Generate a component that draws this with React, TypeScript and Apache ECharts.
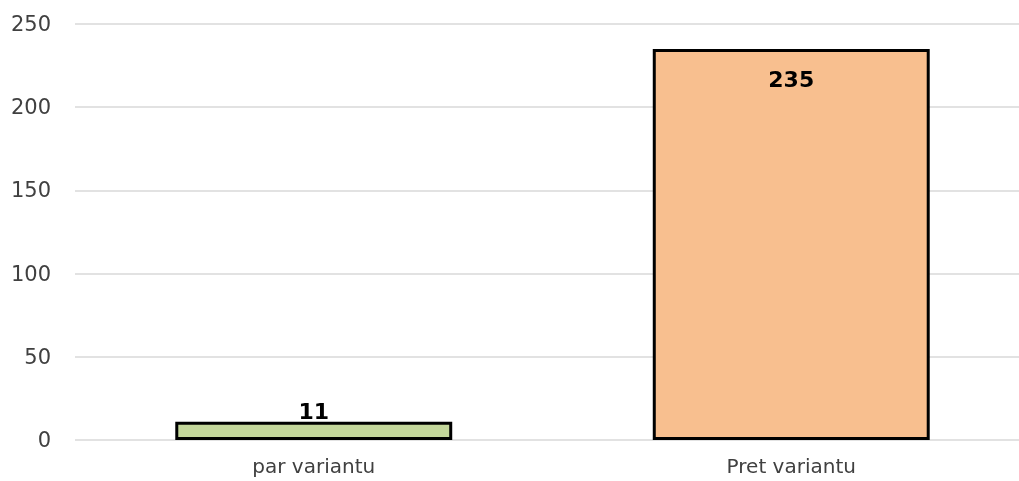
import React, { useEffect, useRef } from "react";
import * as echarts from "echarts";

const categories = ["par variantu", "Pret variantu"];
const values = [11, 235];
const barColors = ["#C4D79B", "#F8BF8F"];
const yTicks = [0, 50, 100, 150, 200, 250];

export default function App() {
  const ref = useRef<HTMLDivElement>(null);
  useEffect(() => {
    if (!ref.current) return;
    const chart = echarts.init(ref.current, undefined, { renderer: "svg" });
    const font = "DejaVu Sans";
    chart.setOption({
      animation: false,
      grid: { left: 75, right: 0, top: 24, bottom: 41, containLabel: false },
      xAxis: {
        type: "category",
        data: categories,
        axisLine: { show: false },
        axisTick: { show: false },
        axisLabel: { color: "#404040", fontSize: 20, fontFamily: font, margin: 16 },
      },
      yAxis: {
        type: "value",
        min: yTicks[0],
        max: yTicks[yTicks.length - 1],
        interval: 50,
        axisLine: { show: false },
        axisTick: { show: false },
        splitLine: { lineStyle: { color: "#D9D9D9", width: 1.5 } },
        axisLabel: { color: "#404040", fontSize: 21, fontFamily: font, margin: 24 },
      },
      series: [
        {
          type: "bar",
          barWidth: "58%",
          data: values.map((v, i) => ({
            value: v,
            itemStyle: { color: barColors[i], borderColor: "#000", borderWidth: 3 },
            label: {
              show: true,
              position: i === 0 ? "top" : "insideTop",
              distance: i === 0 ? -1 : 20,
              fontSize: 22,
              fontWeight: "bold",
              color: "#000",
              fontFamily: font,
            },
          })),
        },
      ],
    });
    return () => chart.dispose();
  }, []);
  return (
    <div style={{ position: "fixed", left: 0, top: 0, width: 1019, height: 481, overflow: "hidden" }}>
      <div ref={ref} style={{ width: 1030, height: 481 }} />
    </div>
  );
}
